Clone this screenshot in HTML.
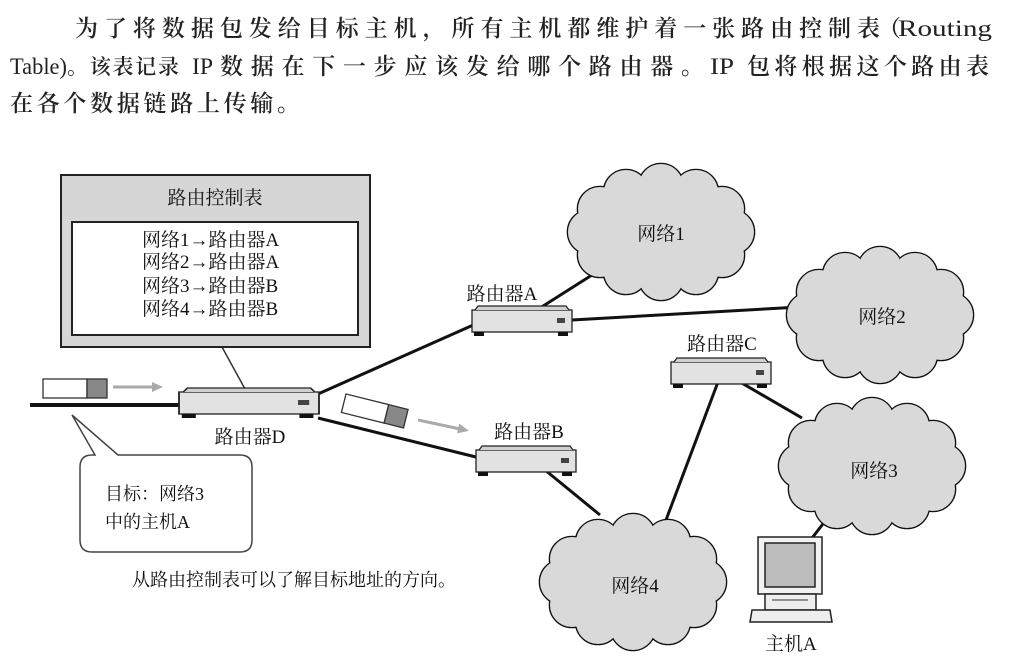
<!DOCTYPE html>
<html><head><meta charset="utf-8"><style>
html,body{margin:0;padding:0;background:#fff;}
svg{display:block;}
text{font-family:"Liberation Serif","Noto Serif CJK SC",serif;fill:#111;}
.h{font-size:23px;font-weight:600;fill:#222;}
.l{font-size:23px;font-weight:normal;fill:#222;}
</style></head><body>
<svg width="1023" height="665" viewBox="0 0 1023 665" xmlns="http://www.w3.org/2000/svg">
<defs>
<g id="cs">
<circle cx="71" cy="0" r="22"/><circle cx="61" cy="23" r="22"/><circle cx="35" cy="40" r="22"/><circle cx="0" cy="46" r="22"/><circle cx="-35" cy="40" r="22"/><circle cx="-61" cy="23" r="22"/><circle cx="-71" cy="0" r="22"/><circle cx="-61" cy="-23" r="22"/><circle cx="-35" cy="-40" r="22"/><circle cx="0" cy="-46" r="22"/><circle cx="35" cy="-40" r="22"/><circle cx="61" cy="-23" r="22"/>
</g>
<g id="cloud">
<use href="#cs" fill="#d9d9d9" stroke="#111" stroke-width="2.6"/>
<use href="#cs" fill="#d9d9d9" stroke="none"/>
<ellipse cx="0" cy="0" rx="72" ry="47" fill="#d9d9d9"/>
</g>
<g id="router">
<rect x="0" y="4" width="100" height="22" fill="#e2e2e2" stroke="#222" stroke-width="1.3"/>
<path d="M3,4 L6,0 L94,0 L97,4" fill="#d0d0d0" stroke="#222" stroke-width="1.3"/>
<rect x="85" y="12" width="8" height="5" fill="#444"/>
<rect x="2" y="26" width="10" height="4" fill="#111"/>
<rect x="86" y="26" width="10" height="4" fill="#111"/>
</g>
</defs>

<!-- header text -->
<text class="h" x="75" y="36" textLength="805" lengthAdjust="spacing">为了将数据包发给目标主机，所有主机都维护着一张路由控制表</text>
<text class="h" x="878" y="36">（</text>
<text class="l" x="898" y="36" textLength="94" lengthAdjust="spacingAndGlyphs">Routing</text>
<text class="l" x="10" y="74" textLength="57" lengthAdjust="spacingAndGlyphs">Table)</text>
<text class="h" x="67" y="74" font-size="21" style="font-size:21px" textLength="112" lengthAdjust="spacing">。该表记录</text>
<text class="l" x="192" y="74" textLength="21" lengthAdjust="spacingAndGlyphs">IP</text>
<text class="h" x="220" y="74" textLength="484" lengthAdjust="spacing">数据在下一步应该发给哪个路由器。</text>
<text class="l" x="710" y="74" textLength="24" lengthAdjust="spacingAndGlyphs">IP</text>
<text class="h" x="747" y="74" textLength="242" lengthAdjust="spacing">包将根据这个路由表</text>
<text class="h" x="10" y="111" textLength="290" lengthAdjust="spacing">在各个数据链路上传输。</text>

<!-- connectors -->
<g stroke="#111" stroke-width="3" fill="none">
<line x1="318" y1="394" x2="480" y2="322"/>
<line x1="572" y1="320" x2="800" y2="307"/>
<line x1="540" y1="308" x2="592" y2="275"/>
<line x1="318" y1="418" x2="480" y2="458"/>
<line x1="545" y1="470" x2="600" y2="515"/>
<line x1="718" y1="382" x2="666" y2="520"/>
<line x1="740" y1="382" x2="802" y2="418"/>
<line x1="826" y1="520" x2="812" y2="538"/>
<line x1="30" y1="405" x2="180" y2="405" stroke-width="4"/>
</g>

<!-- clouds -->
<use href="#cloud" x="661" y="232"/>
<use href="#cloud" x="880" y="315"/>
<use href="#cloud" x="872" y="466"/>
<use href="#cloud" x="633" y="582"/>
<text x="661" y="240" font-size="19" text-anchor="middle">网络1</text>
<text x="882" y="323" font-size="19" text-anchor="middle">网络2</text>
<text x="874" y="477" font-size="19" text-anchor="middle">网络3</text>
<text x="635" y="592" font-size="19" text-anchor="middle">网络4</text>

<!-- routing table -->
<line x1="222" y1="347" x2="245" y2="389" stroke="#333" stroke-width="1.5"/>
<rect x="61" y="175" width="309" height="172" fill="#d6d6d6" stroke="#222" stroke-width="2"/>
<rect x="72" y="222" width="286" height="113" fill="#fff" stroke="#222" stroke-width="2"/>
<text x="215" y="204" font-size="19" text-anchor="middle">路由控制表</text>
<g font-size="19">
<text x="142" y="246">网络1→路由器A</text>
<text x="142" y="268">网络2→路由器A</text>
<text x="142" y="292">网络3→路由器B</text>
<text x="142" y="315">网络4→路由器B</text>
</g>

<!-- routers -->
<use href="#router" transform="translate(179,388) scale(1.4,1)"/>
<use href="#router" x="472" y="306"/>
<use href="#router" x="476" y="446"/>
<use href="#router" x="671" y="358"/>
<text x="250" y="443" font-size="19" text-anchor="middle">路由器D</text>
<text x="502" y="300" font-size="19" text-anchor="middle">路由器A</text>
<text x="529" y="438" font-size="19" text-anchor="middle">路由器B</text>
<text x="722" y="350" font-size="19" text-anchor="middle">路由器C</text>

<!-- packets -->
<rect x="43" y="379" width="44" height="19" fill="#fff" stroke="#333" stroke-width="1.3"/>
<rect x="87" y="379" width="20" height="19" fill="#888" stroke="#333" stroke-width="1.3"/>
<line x1="113" y1="387" x2="153" y2="387" stroke="#aaa" stroke-width="3"/>
<path d="M152,382 L163,387 L152,392 Z" fill="#aaa"/>
<g transform="translate(346,394) rotate(14)">
<rect x="0" y="0" width="44" height="19" fill="#fff" stroke="#333" stroke-width="1.3"/>
<rect x="44" y="0" width="20" height="19" fill="#888" stroke="#333" stroke-width="1.3"/>
</g>
<g transform="translate(418,420) rotate(12)">
<line x1="0" y1="0" x2="42" y2="0" stroke="#aaa" stroke-width="3"/>
<path d="M41,-5 L52,0 L41,5 Z" fill="#aaa"/>
</g>

<!-- callout -->
<path d="M95,455 L72,415 L118,455 L240,455 Q252,455 252,467 L252,540 Q252,552 240,552 L92,552 Q80,552 80,540 L80,467 Q80,455 92,455 Z" fill="#fff" stroke="#444" stroke-width="1.5"/>
<text x="105" y="500" font-size="18">目标：网络3</text>
<text x="105" y="528" font-size="18">中的主机A</text>

<text x="132" y="586" font-size="18">从路由控制表可以了解目标地址的方向。</text>

<!-- host A -->
<g stroke="#222" stroke-width="1.5">
<rect x="758" y="537" width="64" height="57" fill="#f2f2f2"/>
<rect x="765" y="543" width="50" height="44" fill="#bcbcbc"/>
<rect x="765" y="594" width="51" height="16" fill="#eee"/>
<path d="M752,610 L830,610 L832,622 L750,622 Z" fill="#eee"/>
</g>
<line x1="772" y1="600" x2="808" y2="600" stroke="#333" stroke-width="1"/>
<text x="765" y="650" font-size="19">主机A</text>
</svg>
</body></html>
